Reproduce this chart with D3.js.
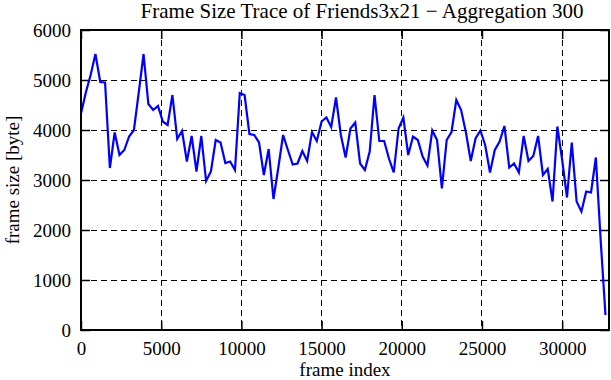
<!DOCTYPE html>
<html>
<head>
<meta charset="utf-8">
<script src="https://cdn.jsdelivr.net/npm/d3@7"></script>
<style>
  html, body { margin: 0; padding: 0; background: #fff; }
  svg { display: block; }
  text { font-family: "Liberation Serif", "DejaVu Serif", serif; fill: #000; }
</style>
</head>
<body>
<script>
// ---- data ----
const titleText = "Frame Size Trace of Friends3x21 \u2212 Aggregation 300";
const xLabel = "frame index";
const yLabel = "frame size [byte]";
const aggregation = 300;
const frameSizes = [
  4330, 4750, 5100, 5520, 4960, 4950, 3240, 3950, 3500, 3600,
  3870, 4000, 4750, 5520, 4520, 4400, 4480, 4170, 4100, 4700,
  3820, 3980, 3370, 3880, 3170, 3880, 2980, 3170, 3800, 3750,
  3340, 3370, 3200, 4740, 4700, 3920, 3900, 3750, 3100, 3620,
  2620, 3240, 3900, 3600, 3310, 3330, 3580, 3380, 3960, 3780,
  4170, 4250, 4060, 4650, 3900, 3450, 4030, 4150, 3330, 3200,
  3570, 4700, 3780, 3780, 3430, 3150, 4030, 4250, 3500, 3870,
  3800, 3470, 3290, 3990, 3800, 2830, 3800, 3960, 4600, 4400,
  3950, 3380, 3830, 3990, 3700, 3150, 3600, 3770, 4080, 3250,
  3330, 3150, 3880, 3380, 3480, 3880, 3100, 3220, 2570, 4070,
  3400, 2650, 3750, 2570, 2370, 2770, 2750, 3450, 1800, 300
];
const xTicks = [0, 5000, 10000, 15000, 20000, 25000, 30000];
const yTicks = [0, 1000, 2000, 3000, 4000, 5000, 6000];
const xMax = 32920;
const yMax = 6000;

// ---- layout ----
const W = 611, H = 380;
const m = { left: 81, right: 2, top: 30, bottom: 50 };
const iw = W - m.left - m.right;   // 528
const ih = H - m.top - m.bottom;   // 300

const svg = d3.select("body").append("svg").attr("width", W).attr("height", H);
const g = svg.append("g").attr("transform", `translate(${m.left},${m.top})`);

const x = d3.scaleLinear().domain([0, xMax]).range([0, iw]);
const y = d3.scaleLinear().domain([0, yMax]).range([ih, 0]);

const pts = frameSizes.map((v, i) => ({ f: i * aggregation, v }));

// grid
g.append("g").selectAll("line").data(xTicks.filter(t => t > 0)).join("line")
  .attr("x1", d => x(d)).attr("x2", d => x(d)).attr("y1", 0).attr("y2", ih)
  .attr("stroke", "#000").attr("stroke-width", 1).attr("stroke-dasharray", "6,4")
  .attr("shape-rendering", "crispEdges");
g.append("g").selectAll("line").data(yTicks.filter(t => t > 0 && t < yMax)).join("line")
  .attr("x1", 0).attr("x2", iw).attr("y1", d => y(d)).attr("y2", d => y(d))
  .attr("stroke", "#000").attr("stroke-width", 1).attr("stroke-dasharray", "6,4")
  .attr("shape-rendering", "crispEdges");

// axes (inward ticks, mirrored)
const tickLen = 9;
const xb = g.append("g").attr("transform", `translate(0,${ih})`)
  .call(d3.axisBottom(x).tickValues(xTicks).tickSize(-tickLen).tickPadding(12).tickFormat(d3.format("d")));
const xt = g.append("g")
  .call(d3.axisTop(x).tickValues(xTicks).tickSize(-tickLen).tickFormat(""));
const yl = g.append("g")
  .call(d3.axisLeft(y).tickValues(yTicks).tickSize(-tickLen).tickPadding(10).tickFormat(d3.format("d")));
const yr = g.append("g").attr("transform", `translate(${iw},0)`)
  .call(d3.axisRight(y).tickValues(yTicks).tickSize(-tickLen).tickFormat(""));
[xb, xt, yl, yr].forEach(a => {
  a.select(".domain").remove();
  a.selectAll(".tick line").attr("stroke", "#000").attr("stroke-width", 1.5);
  a.selectAll("text").attr("font-size", 19).attr("font-family", "Liberation Serif, serif").attr("fill", "#000");
});

// data line
g.append("path").datum(pts)
  .attr("fill", "none").attr("stroke", "#0000ff").attr("stroke-width", 2.2)
  .attr("stroke-linejoin", "miter")
  .attr("d", d3.line().x(d => x(d.f)).y(d => y(d.v)));

// border
g.append("rect").attr("x", 0).attr("y", 0).attr("width", iw).attr("height", ih)
  .attr("fill", "none").attr("stroke", "#000").attr("stroke-width", 2);

// labels
svg.append("text").attr("x", 362).attr("y", 18)
  .attr("text-anchor", "middle").attr("font-size", 21).text(titleText);
svg.append("text").attr("x", m.left + iw / 2).attr("y", 376)
  .attr("text-anchor", "middle").attr("font-size", 19).text(xLabel);
svg.append("text").attr("transform", `translate(19,${m.top + ih / 2}) rotate(-90)`)
  .attr("text-anchor", "middle").attr("font-size", 19).text(yLabel);
</script>
</body>
</html>
